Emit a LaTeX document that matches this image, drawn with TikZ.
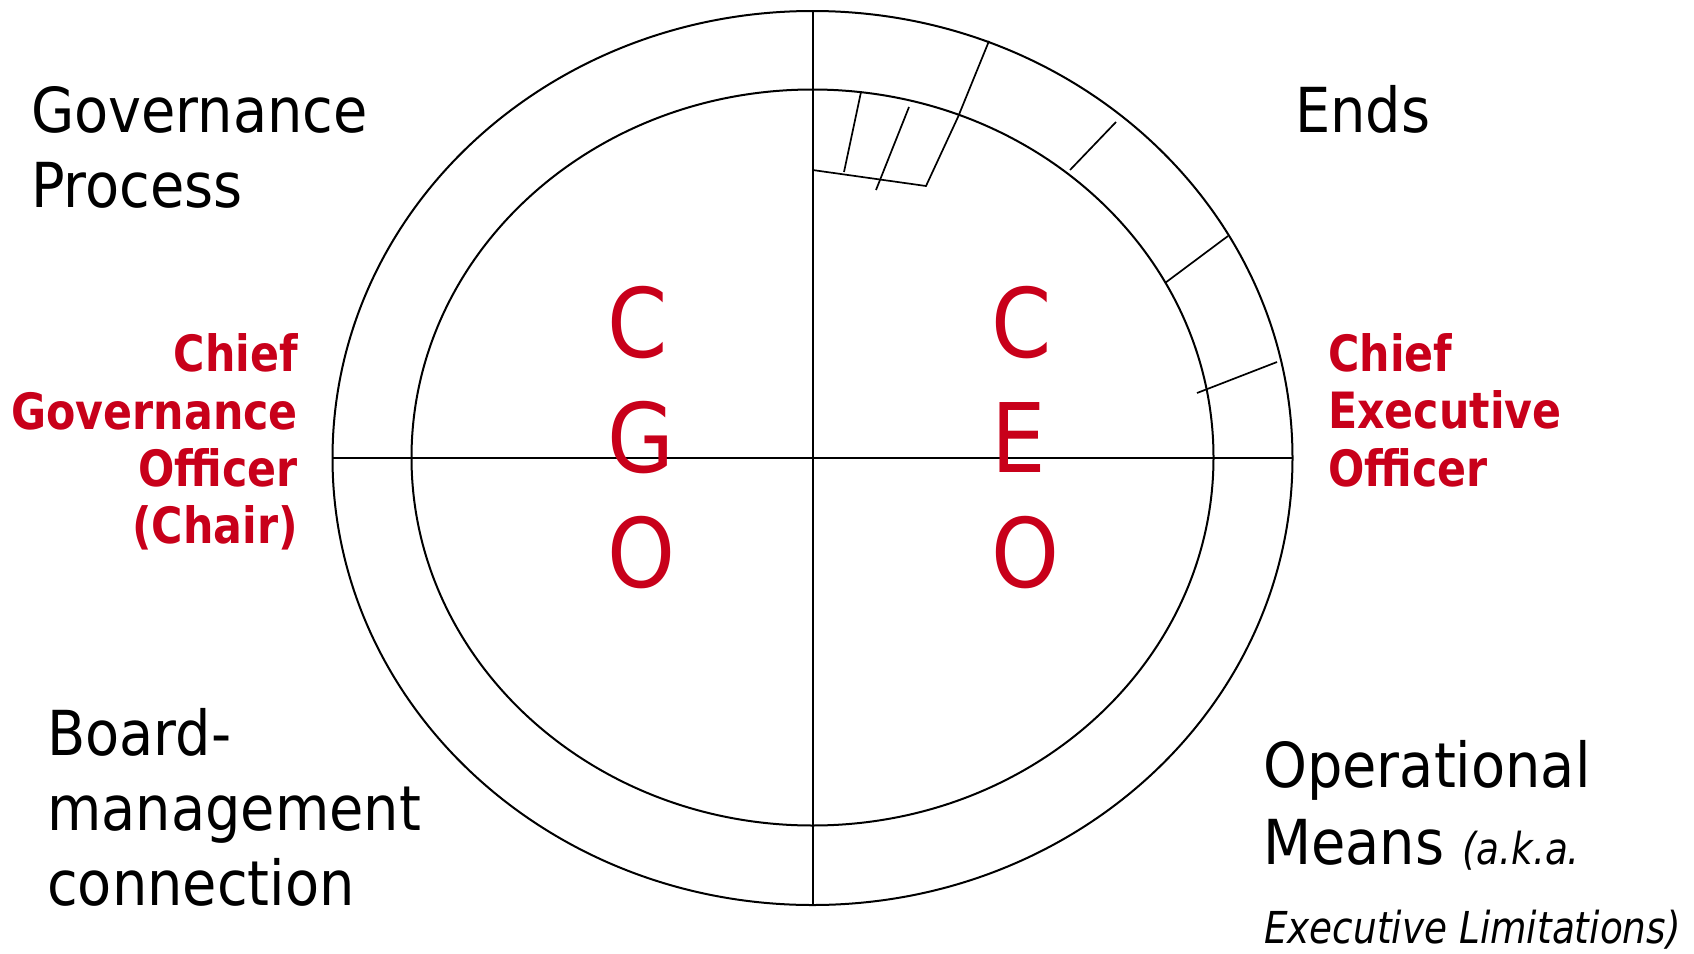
\documentclass[tikz,border=0pt]{standalone}
\usepackage{fontspec}
\newfontfamily\regf{DejaVu Sans}[FakeStretch=0.90]
\newfontfamily\boldf{DejaVu Sans}[FakeStretch=0.855]
\newfontfamily\itf{DejaVu Sans}[FakeStretch=0.85]
\definecolor{ttred}{RGB}{200,0,26}
\begin{document}
\begin{tikzpicture}[x=1pt,y=-1pt,
  lbl/.style={inner sep=0pt, anchor=base west, font=\regf\fontsize{62}{75}\selectfont},
  itl/.style={inner sep=0pt, anchor=base west, font=\itf\itshape\fontsize{44}{48}\selectfont},
  redl/.style={inner sep=0pt, text=ttred, font=\boldf\bfseries\fontsize{50}{57}\selectfont},
  big/.style={inner sep=0pt, anchor=base west, text=ttred, font=\regf\fontsize{96}{115}\selectfont},
  ring/.style={line width=2pt},
  tick/.style={line width=1.7pt}]
\useasboundingbox (0,0) rectangle (1694,953);
% ellipses and axes
\coordinate (c) at (812.5,458);
\draw[ring] (c) ellipse [x radius=480pt, y radius=447pt];
\draw[ring] (812.5,457.5) ellipse [x radius=401pt, y radius=368pt];
\coordinate (vt) at (812.5,11);
\coordinate (vb) at (812.5,905);
\coordinate (hl) at (333,458);
\coordinate (hr) at (1293,458);
\draw[ring] (vt) -- (vb);
\draw[ring] (hl) -- (hr);
% small piece in top right
\coordinate (p0) at (812.5,170);
\coordinate (p1) at (926,186);
\coordinate (p2) at (958,117);
\coordinate (p3) at (989,41);
\draw[tick] (p0) -- (p1) -- (p2) -- (p3);
\coordinate (s1a) at (844,172);
\coordinate (s1b) at (861,92);
\coordinate (s2a) at (876,190);
\coordinate (s2b) at (909,107);
\draw[tick] (s1a) -- (s1b);
\draw[tick] (s2a) -- (s2b);
% ring ticks
\coordinate (t1a) at (1070,170);
\coordinate (t1b) at (1116,122);
\coordinate (t2a) at (1165,283);
\coordinate (t2b) at (1228,236);
\coordinate (t3a) at (1197,393);
\coordinate (t3b) at (1277,362);
\draw[tick] (t1a) -- (t1b);
\draw[tick] (t2a) -- (t2b);
\draw[tick] (t3a) -- (t3b);
% corner labels
\node[lbl] (gp1) at (31,132) {Governance};
\node[lbl] (gp2) at (31,207) {Process};
\node[lbl] (ends) at (1295,132) {Ends};
\node[lbl] (bm1) at (47,755) {Board-};
\node[lbl] (bm2) at (47,830) {management};
\node[lbl] (bm3) at (47,905) {connection};
\node[lbl] (om1) at (1263,787) {Operational};
\node[lbl] (om2) at (1263,864) {Means \itf\itshape\fontsize{44}{48}\selectfont(a.k.a.};
\node[itl] (om3) at (1264,943) {Executive Limitations)};
% red officer labels
\node[redl, anchor=base east] (cg1) at (298,371) {Chief};
\node[redl, anchor=base east] (cg2) at (298,429) {Governance};
\node[redl, anchor=base east] (cg3) at (298,486) {Officer};
\node[redl, anchor=base east] (cg4) at (298,543) {(Chair)};
\node[redl, anchor=base west] (ce1) at (1328,371) {Chief};
\node[redl, anchor=base west] (ce2) at (1328,428) {Executive};
\node[redl, anchor=base west] (ce3) at (1328,486) {Officer};
% big letters
\node[big] (l1) at (607,357) {C};
\node[big] (l2) at (607,472) {G};
\node[big] (l3) at (607,587) {O};
\node[big] (r1) at (991,357) {C};
\node[big] (r2) at (991,472) {E};
\node[big] (r3) at (991,587) {O};
\end{tikzpicture}
\end{document}
